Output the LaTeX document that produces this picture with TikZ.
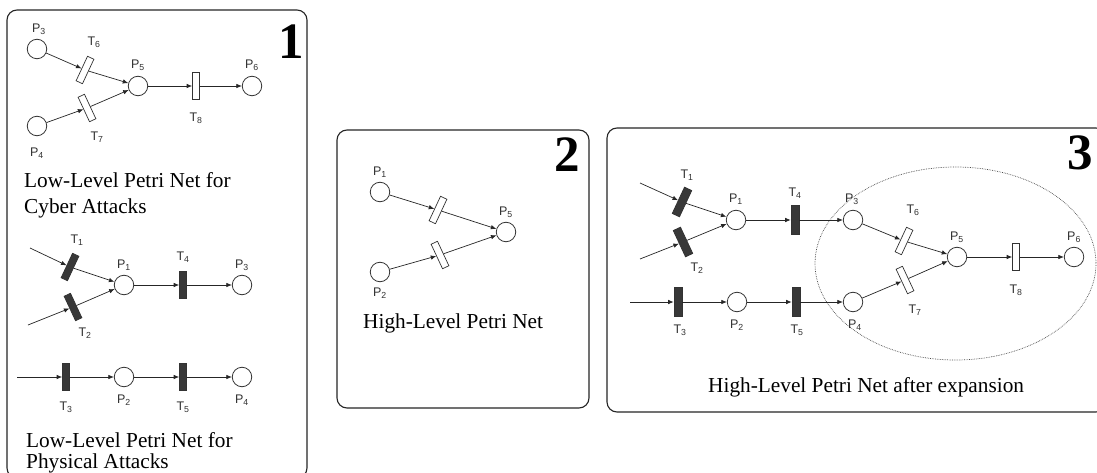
\documentclass[tikz,border=0pt]{standalone}
\usepackage{fontspec}
\setmainfont{Liberation Serif}
\newfontfamily\labfont{Liberation Sans}
\usetikzlibrary{arrows.meta}
\newcommand\lb[2]{#1\textsubscript{#2}}
\begin{document}
\begin{tikzpicture}[x=1pt,y=-1pt,
 place/.style={circle,draw=black!80,line width=0.8pt,minimum size=19.5pt,inner sep=0pt,fill=white},
 trw/.style={rectangle,draw=black!80,line width=0.7pt,fill=white,minimum width=7pt,minimum height=27pt,inner sep=0pt},
 trb/.style={trw,fill=black!78},
 arc/.style={-{Latex[length=5.5pt,width=4.5pt]},line width=0.7pt,draw=black!85},
 lab/.style={font=\labfont\fontsize{12.5}{14}\selectfont,text=black!80,inner sep=0pt},
 captxt/.style={font=\fontsize{21.3}{25}\selectfont,anchor=base west,inner sep=0pt},
 num/.style={font=\bfseries\fontsize{51}{51}\selectfont,anchor=base east,inner sep=0pt},
 frame/.style={draw=black!85,line width=1.1pt,rounded corners=10pt}]
\clip (0,0) rectangle (1097,473);
\fill[white] (0,0) rectangle (1097,473);

% ---------- frames ----------
\draw[frame] (7,10) rectangle (307,478);
\draw[frame] (337,130) rectangle (589,408);
\draw[frame] (607,128) rectangle (1106,412);

\node[num] (n1) at (304,59) {1};
\node[num] (n2) at (580,172) {2};
\node[num] (n3) at (1093,170) {3};

% ---------- box 1 : cyber net ----------
\node[place] (aP3) at (37,49) {};
\node[trw,rotate=-25] (aT6) at (85,70) {};
\node[place] (aP5) at (138,86) {};
\node[trw,rotate=25] (aT7) at (87,108) {};
\node[place] (aP4) at (37,126) {};
\node[trw] (aT8) at (196,86) {};
\node[place] (aP6) at (252,86) {};
\draw[arc] (aP3) -- (aT6);
\draw[arc] (aT6) -- (aP5);
\draw[arc] (aP4) -- (aT7);
\draw[arc] (aT7) -- (aP5);
\draw[arc] (aP5) -- (aT8);
\draw[arc] (aT8) -- (aP6);
\node[lab] (laP3) at (39,29) {\lb{P}{3}};
\node[lab] (laT6) at (94,42) {\lb{T}{6}};
\node[lab] (laP5) at (138,65) {\lb{P}{5}};
\node[lab] (laT7) at (97,137) {\lb{T}{7}};
\node[lab] (laP4) at (37,153) {\lb{P}{4}};
\node[lab] (laT8) at (196,118) {\lb{T}{8}};
\node[lab] (laP6) at (252,65) {\lb{P}{6}};
\node[captxt] (c1a) at (24,188) {Low-Level Petri Net for};
\node[captxt] (c1b) at (24,213) {Cyber Attacks};

% ---------- box 1 : physical net ----------
\coordinate (bIn1) at (30,248);
\coordinate (bIn2) at (28,325);
\node[trb,rotate=-25] (bT1) at (70,267) {};
\node[trb,rotate=25] (bT2) at (73,307) {};
\node[place] (bP1) at (124,285) {};
\node[trb] (bT4) at (183,285) {};
\node[place] (bP3) at (242,285) {};
\draw[arc] (bIn1) -- (bT1);
\draw[arc] (bIn2) -- (bT2);
\draw[arc] (bT1) -- (bP1);
\draw[arc] (bT2) -- (bP1);
\draw[arc] (bP1) -- (bT4);
\draw[arc] (bT4) -- (bP3);
\node[lab] (lbT1) at (77,240) {\lb{T}{1}};
\node[lab] (lbP1) at (124,265) {\lb{P}{1}};
\node[lab] (lbT2) at (85,333) {\lb{T}{2}};
\node[lab] (lbT4) at (183,257) {\lb{T}{4}};
\node[lab] (lbP3) at (242,265) {\lb{P}{3}};

\coordinate (bIn3) at (17,377);
\node[trb] (bT3) at (66,377) {};
\node[place] (bP2) at (124,377) {};
\node[trb] (bT5) at (183,377) {};
\node[place] (bP4) at (242,377) {};
\draw[arc] (bIn3) -- (bT3);
\draw[arc] (bT3) -- (bP2);
\draw[arc] (bP2) -- (bT5);
\draw[arc] (bT5) -- (bP4);
\node[lab] (lbT3) at (66,407) {\lb{T}{3}};
\node[lab] (lbP2) at (124,400) {\lb{P}{2}};
\node[lab] (lbT5) at (183,407) {\lb{T}{5}};
\node[lab] (lbP4) at (242,400) {\lb{P}{4}};
\node[captxt] (c2a) at (26,447) {Low-Level Petri Net for};
\node[captxt] (c2b) at (26,468) {Physical Attacks};

% ---------- box 2 ----------
\node[place] (cP1) at (380,192) {};
\node[place] (cP2) at (380,272) {};
\node[place] (cP5) at (506,232) {};
\node[trw,rotate=-25] (cTa) at (438,210) {};
\node[trw,rotate=25] (cTb) at (440,255) {};
\draw[arc] (cP1) -- (cTa);
\draw[arc] (cTa) -- (cP5);
\draw[arc] (cP2) -- (cTb);
\draw[arc] (cTb) -- (cP5);
\node[lab] (lcP1) at (380,172) {\lb{P}{1}};
\node[lab] (lcP5) at (506,212) {\lb{P}{5}};
\node[lab] (lcP2) at (380,293) {\lb{P}{2}};
\node[captxt] (c3) at (363,328) {High-Level Petri Net};

% ---------- box 3 ----------
\draw[densely dotted,black!70,line width=0.7pt] (955.5,263.5) ellipse [x radius=140.5,y radius=96.5];
\coordinate (dIn1) at (640,183);
\coordinate (dIn2) at (640,259);
\coordinate (dIn3) at (630,302);
\node[trb,rotate=-25,minimum width=8pt,minimum height=29pt] (dT1) at (682,202) {};
\node[trb,rotate=25,minimum width=8pt,minimum height=29pt] (dT2) at (683,242) {};
\node[place] (dP1) at (736,220) {};
\node[trb,minimum width=8pt,minimum height=29pt] (dT4) at (795,220) {};
\node[place] (dP3) at (853,220) {};
\node[trb,minimum width=8pt,minimum height=29pt] (dT3) at (678,302) {};
\node[place] (dP2) at (737,302) {};
\node[trb,minimum width=8pt,minimum height=29pt] (dT5) at (796,302) {};
\node[place] (dP4) at (853,302) {};
\node[trw,rotate=-25] (dT6) at (904,241) {};
\node[trw,rotate=25] (dT7) at (905,280) {};
\node[place] (dP5) at (957,257) {};
\node[trw] (dT8) at (1016,257) {};
\node[place] (dP6) at (1074,257) {};
\draw[arc] (dIn1) -- (dT1);
\draw[arc] (dIn2) -- (dT2);
\draw[arc] (dT1) -- (dP1);
\draw[arc] (dT2) -- (dP1);
\draw[arc] (dP1) -- (dT4);
\draw[arc] (dT4) -- (dP3);
\draw[arc] (dIn3) -- (dT3);
\draw[arc] (dT3) -- (dP2);
\draw[arc] (dP2) -- (dT5);
\draw[arc] (dT5) -- (dP4);
\draw[arc] (dP3) -- (dT6);
\draw[arc] (dT6) -- (dP5);
\draw[arc] (dP4) -- (dT7);
\draw[arc] (dT7) -- (dP5);
\draw[arc] (dP5) -- (dT8);
\draw[arc] (dT8) -- (dP6);
\node[lab] (ldT1) at (687,175) {\lb{T}{1}};
\node[lab] (ldP1) at (736,199) {\lb{P}{1}};
\node[lab] (ldT2) at (697,268) {\lb{T}{2}};
\node[lab] (ldT4) at (795,193) {\lb{T}{4}};
\node[lab] (ldP3) at (852,199) {\lb{P}{3}};
\node[lab] (ldT3) at (680,330) {\lb{T}{3}};
\node[lab] (ldP2) at (737,325) {\lb{P}{2}};
\node[lab] (ldT5) at (797,330) {\lb{T}{5}};
\node[lab] (ldP4) at (855,325) {\lb{P}{4}};
\node[lab] (ldT6) at (913,210) {\lb{T}{6}};
\node[lab] (ldP5) at (957,237) {\lb{P}{5}};
\node[lab] (ldT7) at (915,310) {\lb{T}{7}};
\node[lab] (ldT8) at (1016,290) {\lb{T}{8}};
\node[lab] (ldP6) at (1074,237) {\lb{P}{6}};
\node[captxt] (c4) at (708,392) {High-Level Petri Net after expansion};
\end{tikzpicture}
\end{document}
